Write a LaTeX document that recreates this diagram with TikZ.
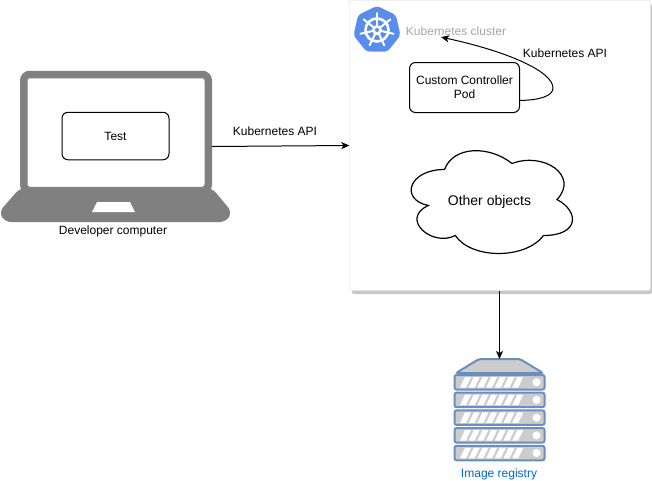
\documentclass[tikz,border=0pt]{standalone}
\usepackage{fontspec}
\setmainfont{Liberation Sans}
\usetikzlibrary{shapes.geometric, arrows.meta}
\definecolor{laptopgray}{HTML}{808080}
\definecolor{kubeblue}{HTML}{5A8DEB}
\definecolor{servergray}{HTML}{CCCCCC}
\definecolor{serverblue}{HTML}{6C8EBF}
\definecolor{regblue}{HTML}{0066CC}
\tikzset{
  txt/.style={font=\fontsize{12}{14}\selectfont, inner sep=1, align=center},
  box/.style={draw, rounded corners=6, line width=1, inner sep=0, font=\fontsize{12}{14}\selectfont, align=center},
  arrow/.style={->, line width=1, >={Stealth[length=8,width=7,inset=2]}},
  rack/.style={draw=serverblue, fill=servergray, line width=2, rounded corners=2}
}

\begin{document}
\begin{tikzpicture}[x=1pt, y=-1pt]
\useasboundingbox (0,0) rectangle (652,480);
% Cluster
\fill[black!22, rounded corners=2] (352,4) rectangle (652,294);
\node[draw=black!15, fill=white, rounded corners=2, inner sep=0, minimum width=301, minimum height=290] (cluster) at (500,145.5) {};
\node[regular polygon, regular polygon sides=7, fill=kubeblue, draw=kubeblue, line width=2, rounded corners=3, inner sep=0, minimum size=46] (kube) at (377,30) {};
\draw[white, line width=2.6] (377,30) circle (11.5pt);
\foreach \a in {90,141.4,...,400} {
  \draw[white, line width=2, line cap=round] (kube.center) -- +(\a:17pt);
}
\fill[white] (377,30) circle (5pt);
\fill[kubeblue] (377,30) circle (2pt);
\node[txt, text=black!35] (clusterlabel) at (456,31.5) {Kubernetes cluster};
\node[box, minimum width=110, minimum height=50] (ctrl) at (464.5,87.5) {Custom Controller\\Pod};
\node[txt] (apiself) at (565,53) {Kubernetes API};
% Cloud
\begin{scope}[shift={(399.5,139.5)}, x=180pt, y=-120pt]
\draw[fill=white, line width=1.2] (0.25,0.25) .. controls (0.05,0.25) and (0,0.5) .. (0.16,0.55)
  .. controls (0,0.66) and (0.18,0.9) .. (0.31,0.8)
  .. controls (0.4,1) and (0.7,1) .. (0.8,0.8)
  .. controls (1,0.8) and (1,0.6) .. (0.875,0.5)
  .. controls (1,0.3) and (0.8,0.1) .. (0.625,0.2)
  .. controls (0.5,0.05) and (0.3,0.05) .. (0.25,0.25) -- cycle;
\end{scope}
\node[txt, font=\fontsize{14}{16}\selectfont] (objects) at (489.5,201.5) {Other objects};
% Laptop
\node[draw=laptopgray, line width=7.5, rounded corners=6, inner sep=0, minimum width=184.5, minimum height=116] (screen) at (116,132.5) {};
\fill[laptopgray, rounded corners=6] (20,188) -- (212,188) -- (232,212) -- (226,222) -- (5,222) -- (-1,212) -- cycle;
\fill[white] (92,212) -- (97,202) -- (130,202) -- (135,212) -- cycle;
\node[box, minimum width=107, minimum height=47.5] (test) at (115.5,136) {Test};
\node[txt] (devlabel) at (113,231) {Developer computer};
\node[txt] (apilabel) at (275,131.5) {Kubernetes API};
\coordinate (apistart) at (212,146.5);
% Server
\draw[rack, fill=servergray] (456,373) -- (479,359) -- (520,359) -- (543,373) -- cycle;
\coordinate (registrytop) at (499.5,359);
\foreach \y in {375,392.7,410.4,428.1,445.8} {
  \draw[rack] (454.5,\y) rectangle (544.5,\y+14.5);
  \foreach \x in {0,1,...,6} {
    \fill[white] (460+8.7*\x,\y+12.5) -- (466+8.7*\x,\y+12.5) -- (471+8.7*\x,\y+2) -- (465+8.7*\x,\y+2) -- cycle;
  }
  \fill[white] (536.5,\y+7.25) circle (4pt);
}
\node[txt, text=regblue] (registry) at (499,474.5) {Image registry};
% Arrows
\draw[arrow] (apistart)--(cluster.west);
\draw[arrow] (cluster.south -| registrytop)--(registrytop);
\draw[arrow] ([yshift=-13pt]ctrl.east) .. controls (540,100) and (553,96) .. (553,88)
  .. controls (553,72) and (510,52) .. ([xshift=-15pt]clusterlabel.south);
\end{tikzpicture}
\end{document}
